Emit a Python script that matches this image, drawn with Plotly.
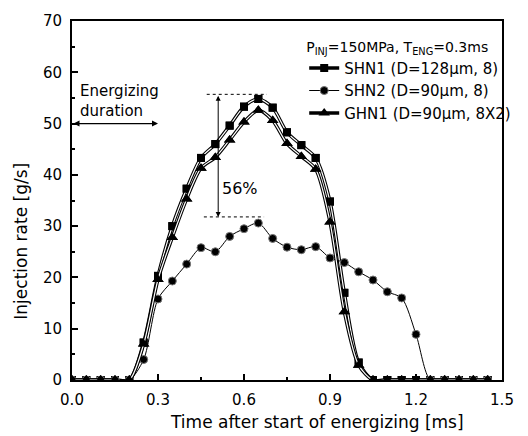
import plotly.graph_objects as go

# ---- data ----
time_ms = [0.00, 0.05, 0.10, 0.15, 0.20, 0.25, 0.30, 0.35, 0.40, 0.45,
           0.50, 0.55, 0.60, 0.65, 0.70, 0.75, 0.80, 0.85, 0.90, 0.95,
           1.00, 1.05, 1.10, 1.15, 1.20, 1.25, 1.30, 1.35, 1.40, 1.45]

shn1 = [0, 0, 0, 0, 0, 7.3, 20.3, 30.0, 37.3, 43.3,
        46.0, 49.6, 53.3, 54.8, 53.1, 48.3, 45.8, 43.3, 34.8, 17.0,
        3.4, 0, 0, 0, 0, 0, 0, 0, 0, 0]

shn2 = [0, 0, 0, 0, 0, 4.0, 15.8, 19.3, 22.6, 25.8,
        25.0, 28.0, 29.5, 30.6, 27.6, 25.9, 25.4, 26.0, 23.8, 22.9,
        21.1, 19.5, 17.2, 16.0, 8.9, 0, 0, 0, 0, 0]

ghn1 = [0, 0, 0, 0, 0, 7.0, 19.6, 27.8, 35.3, 41.3,
        43.4, 46.8, 50.3, 52.6, 50.6, 46.1, 43.6, 41.1, 30.8, 13.3,
        2.9, 0, 0, 0, 0, 0, 0, 0, 0, 0]

names = ["SHN1 (D=128\u03bcm, 8)", "SHN2 (D=90\u03bcm, 8)", "GHN1 (D=90\u03bcm, 8X2)"]
legend_title = "P<sub>INJ</sub>=150MPa, T<sub>ENG</sub>=0.3ms"

x_ticks = [0.0, 0.3, 0.6, 0.9, 1.2, 1.5]
y_ticks = [0, 10, 20, 30, 40, 50, 60, 70]

# annotation values
energizing_end = 0.3
energizing_level = 50
peak_high = 55.7
peak_low = 31.8
arrow_t = 0.51

FONT = "DejaVu Sans"

fig = go.Figure()

def double_line(x, y, name, symbol, msize, legendrank):
    # thick black line (shown in legend)
    fig.add_trace(go.Scatter(x=x, y=y, mode="lines+markers", name=name,
                             line=dict(color="black", width=3.4, shape="spline", smoothing=0.8),
                             marker=dict(symbol=symbol, size=msize, color="black"),
                             legendrank=legendrank))
    # white core -> double line look
    fig.add_trace(go.Scatter(x=x, y=y, mode="lines", showlegend=False, hoverinfo="skip",
                             line=dict(color="white", width=1.2, shape="spline", smoothing=0.8)))
    # markers on top
    fig.add_trace(go.Scatter(x=x, y=y, mode="markers", showlegend=False, hoverinfo="skip",
                             marker=dict(symbol=symbol, size=msize, color="black")))

double_line(time_ms, shn1, names[0], "square", 8, 1)
fig.add_trace(go.Scatter(x=time_ms, y=shn2, mode="lines+markers", name=names[1],
                         line=dict(color="black", width=1, shape="spline", smoothing=0.8),
                         marker=dict(symbol="circle", size=8, color="black",
                                     line=dict(color="#777", width=1)),
                         legendrank=2))
double_line(time_ms, ghn1, names[2], "triangle-up", 10, 3)

axis_common = dict(showline=True, linecolor="black", linewidth=2, mirror=True,
                   ticks="inside", tickcolor="black", tickwidth=1.5, ticklen=6,
                   showgrid=False, zeroline=False,
                   tickfont=dict(family=FONT, size=15, color="black"))

fig.update_xaxes(range=[0, 1.5], tickvals=x_ticks, tickformat=".1f", ticklabelstandoff=5,
                 minor=dict(ticks="inside", ticklen=3, tickcolor="black", dtick=0.15, tick0=0),
                 **axis_common)
fig.update_yaxes(range=[0, 70], tickvals=y_ticks, ticklabelstandoff=5,
                 minor=dict(ticks="inside", ticklen=3, tickcolor="black", dtick=5, tick0=0),
                 **axis_common)

annotations = [
    dict(text="Time after start of energizing [ms]", xref="paper", yref="paper",
         x=0.57, y=-0.118, showarrow=False, xanchor="center", yanchor="middle",
         font=dict(family=FONT, size=17, color="black")),
    dict(text="Injection rate [g/s]", xref="paper", yref="paper",
         x=-0.118, y=0.386, showarrow=False, textangle=-90, xanchor="center", yanchor="middle",
         font=dict(family=FONT, size=17, color="black")),
    dict(text="Energizing<br>duration", xref="x", yref="y", x=0.02, y=54.4,
         showarrow=False, xanchor="left", yanchor="middle", align="left",
         font=dict(family=FONT, size=15, color="black")),
    dict(text="", xref="x", yref="y", x=energizing_end, y=energizing_level,
         axref="x", ayref="y", ax=0.0, ay=energizing_level, showarrow=True,
         arrowhead=2, arrowsize=1, arrowwidth=1.2, arrowside="end+start", arrowcolor="black",
         startarrowhead=2, startarrowsize=1),
    dict(text="", xref="x", yref="y", x=arrow_t, y=peak_low,
         axref="x", ayref="y", ax=arrow_t, ay=peak_high, showarrow=True,
         arrowhead=2, arrowsize=1, arrowwidth=1, arrowside="end+start", arrowcolor="black",
         startarrowhead=2, startarrowsize=1),
    dict(text="56%", xref="x", yref="y", x=0.585, y=37.3, showarrow=False,
         xanchor="center", yanchor="middle", font=dict(family=FONT, size=16, color="black")),
]

shapes = [
    dict(type="line", xref="x", yref="y", x0=0.47, x1=0.68, y0=peak_high, y1=peak_high,
         line=dict(color="black", width=1, dash="dot")),
    dict(type="line", xref="x", yref="y", x0=0.46, x1=0.67, y0=peak_low, y1=peak_low,
         line=dict(color="black", width=1, dash="dot")),
]

fig.update_layout(
    width=528, height=436,
    margin=dict(l=72, r=15, t=17, b=56),
    paper_bgcolor="white", plot_bgcolor="white",
    font=dict(family=FONT, color="black"),
    annotations=annotations, shapes=shapes,
    legend=dict(x=0.54, y=0.965, xanchor="left", yanchor="top",
                bgcolor="rgba(0,0,0,0)", borderwidth=0,
                font=dict(family=FONT, size=15, color="black"),
                title=dict(text=legend_title, font=dict(family=FONT, size=14, color="black")),
                tracegroupgap=0, itemwidth=30),
)

fig.write_html("out.html")
